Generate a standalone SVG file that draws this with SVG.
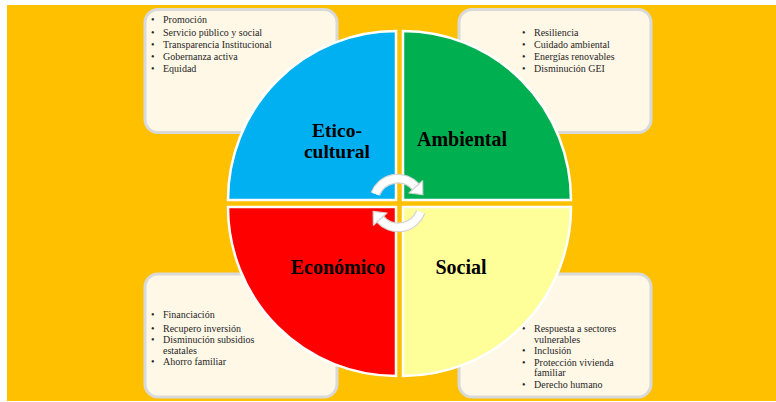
<svg xmlns="http://www.w3.org/2000/svg" width="776" height="402" viewBox="0 0 776 402">
<defs>
<style>
.box{fill:#FFF8E6;stroke:#D9D9D9;stroke-width:3}
.q{stroke:#FFFFFF;stroke-width:2.5}
.lbl{font-family:"Liberation Serif",serif;font-weight:bold;font-size:20px;fill:#000;text-anchor:middle}
.lbl2{font-family:"Liberation Serif",serif;font-weight:bold;font-size:19.5px;fill:#000;text-anchor:middle}
.t{font-family:"Liberation Serif",serif;font-size:10px;fill:#262626}
.arcO{fill:none;stroke:#D4D4D4;stroke-width:10}
.arcI{fill:none;stroke:#FFFFFF;stroke-width:7.5}
.head{fill:#FFFFFF;stroke:#D4D4D4;stroke-width:1.2;stroke-linejoin:round}
</style>
</defs>
<rect x="0" y="0" width="776" height="402" fill="#FFFFFF"/>
<rect x="7" y="5" width="769" height="396" fill="#FFC000"/>

<g id="box-etico">
<rect class="box" x="145" y="9.5" width="192" height="123" rx="13"/>
<g class="t">
<text x="151" y="23">•</text><text x="163" y="23">Promoción</text>
<text x="151" y="35.5">•</text><text x="163" y="35.5">Servicio público y social</text>
<text x="151" y="47.5">•</text><text x="163" y="47.5">Transparencia Institucional</text>
<text x="151" y="60">•</text><text x="163" y="60">Gobernanza activa</text>
<text x="151" y="71.5">•</text><text x="163" y="71.5">Equidad</text>
</g>
</g>

<g id="box-ambiental">
<rect class="box" x="459" y="9.5" width="192" height="123" rx="13"/>
<g class="t">
<text x="522" y="35.5">•</text><text x="534" y="35.5">Resiliencia</text>
<text x="522" y="48">•</text><text x="534" y="48">Cuidado ambiental</text>
<text x="522" y="60">•</text><text x="534" y="60">Energías renovables</text>
<text x="522" y="71.5">•</text><text x="534" y="71.5">Disminución GEI</text>
</g>
</g>

<g id="box-economico">
<rect class="box" x="145" y="274" width="192" height="123" rx="13"/>
<g class="t">
<text x="151" y="318">•</text><text x="163" y="318">Financiación</text>
<text x="151" y="332">•</text><text x="163" y="332">Recupero inversión</text>
<text x="151" y="343">•</text><text x="163" y="343">Disminución subsidios</text>
<text x="163" y="353.5">estatales</text>
<text x="151" y="365">•</text><text x="163" y="365">Ahorro familiar</text>
</g>
</g>

<g id="box-social">
<rect class="box" x="459" y="274" width="192" height="123" rx="13"/>
<g class="t">
<text x="522" y="332">•</text><text x="534" y="332">Respuesta a sectores</text>
<text x="534" y="342.5">vulnerables</text>
<text x="522" y="354">•</text><text x="534" y="354">Inclusión</text>
<text x="522" y="365.5">•</text><text x="534" y="365.5">Protección vivienda</text>
<text x="534" y="375.5">familiar</text>
<text x="522" y="388">•</text><text x="534" y="388">Derecho humano</text>
</g>
</g>

<g id="q-etico">
<path class="q" d="M396,200 L228,200 A168,169 0 0 1 396,31 Z" fill="#00B0F0"/>
<text class="lbl2" x="337" y="137">Etico-</text>
<text class="lbl2" x="337" y="158">cultural</text>
</g>
<g id="q-ambiental">
<path class="q" d="M403,200 L403,31 A168,169 0 0 1 571,200 Z" fill="#00B050"/>
<text class="lbl" x="462" y="146">Ambiental</text>
</g>
<g id="q-economico">
<path class="q" d="M396,207 L396,376 A168,169 0 0 1 228,207 Z" fill="#FF0000"/>
<text class="lbl" x="338" y="274">Económico</text>
</g>
<g id="q-social">
<path class="q" d="M403,207 L571,207 A168,169 0 0 1 403,376 Z" fill="#FFFF99"/>
<text class="lbl" x="461" y="274">Social</text>
</g>

<g id="connectors">
<path class="arcO" d="M375.3,194 A24,24 0 0 1 415.8,186.9"/>
<path class="arcI" d="M375.3,194 A24,24 0 0 1 415.8,186.9"/>
<polygon class="head" points="422.6,180.8 409,193 422.8,194.6"/>
<path class="arcO" d="M420.7,212 A24,24 0 0 1 380.2,219.1"/>
<path class="arcI" d="M420.7,212 A24,24 0 0 1 380.2,219.1"/>
<polygon class="head" points="373.4,225.2 387,213 373.2,211.4"/>
</g>
</svg>
